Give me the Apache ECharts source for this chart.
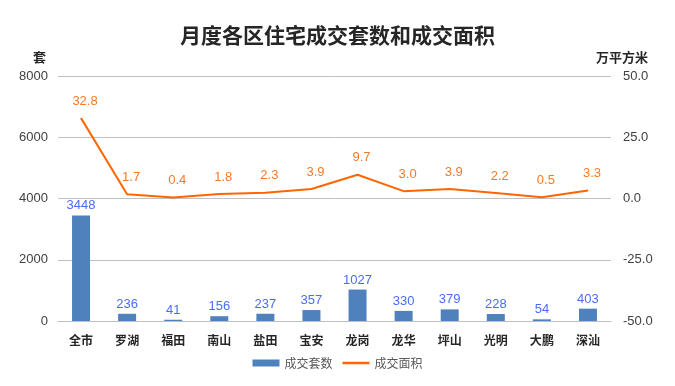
<!DOCTYPE html>
<html><head><meta charset="utf-8">
<script src="https://cdn.jsdelivr.net/npm/echarts@6/dist/echarts.min.js"></script>
<style>html,body{margin:0;padding:0;background:#fff}#c{width:675px;height:386px}</style>
</head><body><div id="c"></div>
<script>
var categories = ['全市','罗湖','福田','南山','盐田','宝安','龙岗','龙华','坪山','光明','大鹏','深汕'];
var units = [3448, 236, 41, 156, 237, 357, 1027, 330, 379, 228, 54, 403];
var area = [32.8, 1.7, 0.4, 1.8, 2.3, 3.9, 9.7, 3.0, 3.9, 2.2, 0.5, 3.3];
var leftTicks = [0, 2000, 4000, 6000, 8000];
var rightTicks = [-50, -25, 0, 25, 50];

var chart = echarts.init(document.getElementById('c'));
var fontCJK = '"Noto Sans CJK SC", sans-serif';
chart.setOption({
  animation: false,
  title: {
    text: '月度各区住宅成交套数和成交面积',
    left: 'center', top: 20,
    textStyle: {fontFamily: '"Noto Sans CJK SC", serif', fontSize: 21, fontWeight: 'bold', color: '#262626'}
  },
  legend: {
    bottom: 12, left: 'center', itemGap: 10, itemWidth: 27, itemHeight: 7,
    textStyle: {fontFamily: fontCJK, fontSize: 12, color: '#595959'},
    data: [{name: '成交套数', icon: 'rect'}, {name: '成交面积', icon: 'path://M0,0 L27,0 L27,2.5 L0,2.5 Z', itemStyle: {color: '#FF6600'}}]
  },
  grid: {left: 58, right: 64, top: 76, bottom: 65},
  xAxis: {
    type: 'category', data: categories,
    axisLine: {lineStyle: {color: '#BFBFBF'}},
    axisTick: {show: false},
    axisLabel: {fontFamily: fontCJK, fontSize: 12, fontWeight: 'bold', color: '#262626', margin: 13}
  },
  yAxis: [{
    type: 'value', min: leftTicks[0], max: leftTicks[leftTicks.length-1], interval: 2000,
    name: '套', nameLocation: 'end', nameGap: 12,
    nameTextStyle: {fontFamily: fontCJK, fontSize: 13, fontWeight: 'bold', color: '#262626', align: 'right', padding: [0, 12, 0, 0]},
    axisLine: {show: false}, axisTick: {show: false},
    axisLabel: {fontSize: 13, color: '#404040', margin: 10, formatter: function(v){return String(v);}},
    splitLine: {lineStyle: {color: '#C0C0C0'}}
  }, {
    type: 'value', min: rightTicks[0], max: rightTicks[rightTicks.length-1], interval: 25,
    name: '万平方米', nameLocation: 'end', nameGap: 12,
    nameTextStyle: {fontFamily: fontCJK, fontSize: 13, fontWeight: 'bold', color: '#262626', align: 'left', padding: [0, 0, 0, -15]},
    axisLine: {show: false}, axisTick: {show: false},
    axisLabel: {fontSize: 13, color: '#404040', margin: 12, formatter: function(v){return v.toFixed(1);}},
    splitLine: {show: false}
  }],
  series: [{
    name: '成交套数', type: 'bar', data: units, barWidth: 18,
    itemStyle: {color: '#4F81BD'},
    label: {show: true, position: 'top', color: '#4A6CF7', fontSize: 13, distance: 3}
  }, {
    name: '成交面积', type: 'line', yAxisIndex: 1, data: area,
    symbol: 'circle', symbolSize: 1, showSymbol: true,
    lineStyle: {color: '#FF6600', width: 2}, itemStyle: {color: '#FF6600'},
    label: {show: true, position: 'top', color: '#F47A2A', fontSize: 13, distance: 10, offset: [4, 0], formatter: function(p){return p.value.toFixed(1);}}
  }]
});
</script></body></html>
